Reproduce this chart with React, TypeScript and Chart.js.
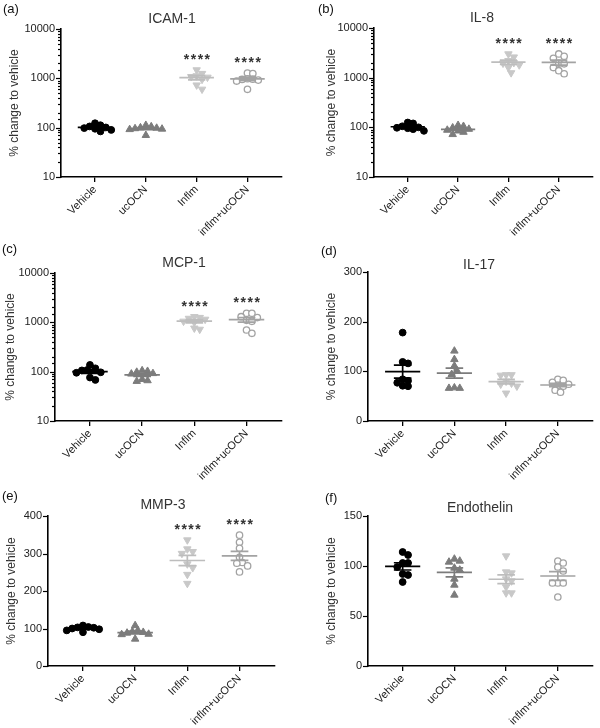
import React, { useEffect, useRef } from 'react';
import { Chart, registerables } from 'chart.js';

Chart.register(...registerables);

// ---------------- data ----------------
const categories = ['Vehicle', 'ucOCN', 'Inflm', 'inflm+ucOCN'];

const icamVehicle = [123, 112, 106, 101, 98, 95, 90, 84];
const icamUcocn = [112, 105, 100, 98, 96, 94, 92, 70];
const icamInflm = [1480, 1250, 1120, 1080, 1050, 950, 730, 600];
const icamCombo = [1280, 1250, 980, 960, 950, 920, 880, 600];

const il8Vehicle = [125, 120, 105, 100, 98, 96, 92, 85];
const il8Ucocn = [110, 105, 98, 92, 88, 85, 80, 72];
const il8Inflm = [3000, 2600, 2200, 2000, 1950, 1800, 1600, 1250];
const il8Combo = [3000, 2700, 2450, 1950, 1900, 1600, 1380, 1200];

const mcpVehicle = [137, 117, 108, 106, 97, 95, 76, 68];
const mcpUcocn = [105, 102, 98, 92, 90, 70, 66, 64];
const mcpInflm = [1300, 1250, 1200, 1150, 1050, 1000, 760, 720];
const mcpCombo = [1525, 1525, 1300, 1250, 1100, 1050, 700, 600];

const il17Vehicle = [178, 119, 116, 84, 81, 77, 71, 70];
const il17Ucocn = [141, 124, 111, 101, 94, 67, 66, 66];
const il17Inflm = [92, 93, 93, 80, 76, 74, 70, 56];
const il17Combo = [84, 82, 78, 74, 72, 70, 62, 58];

const mmpVehicle = [108, 104, 102, 100, 98, 103, 95, 90];
const mmpUcocn = [108, 95, 92, 90, 88, 85, 84, 72];
const mmpInflm = [336, 300, 305, 312, 272, 262, 244, 220];
const mmpCombo = [349, 330, 314, 290, 276, 274, 267, 251];

const endoVehicle = [114, 111, 103, 103, 99, 92, 91, 84];
const endoUcocn = [107, 105, 104, 98, 96, 87, 81, 71];
const endoInflm = [110, 94, 93, 87, 85, 79, 73, 73];
const endoCombo = [105, 103, 99, 95, 83, 83, 83, 69];

const logTickLabels = [10, 100, 1000, 10000];
const il17TickLabels = [0, 100, 200, 300];
const mmpTickLabels = [0, 100, 200, 300, 400];
const endoTickLabels = [0, 50, 100, 150];

const sigStars = ['', '', '****', '****'];
const noStars = ['', '', '', ''];

const yAxisTitle = '% change to vehicle';

// ---------------- styles / layout ----------------
const FONT = "'Liberation Sans', Arial, Helvetica, sans-serif";

const groupStyles = [
  { pointStyle: 'circle', radius: 3.4, fill: '#000000', stroke: '#000000', rotation: 0, bw: 1, line: '#000000' },
  { pointStyle: 'triangle', radius: 4.3, fill: '#7c7c7c', stroke: '#7c7c7c', rotation: 0, bw: 1, line: '#7c7c7c' },
  { pointStyle: 'triangle', radius: 4.3, fill: '#c8c8c8', stroke: '#c8c8c8', rotation: 180, bw: 1, line: '#bdbdbd' },
  { pointStyle: 'circle', radius: 3.2, fill: '#ffffff', stroke: '#a3a3a3', rotation: 0, bw: 1.3, line: '#a3a3a3' },
];

type PanelDef = {
  key: string;
  label: string;
  title: string;
  groups: number[][];
  yType: 'logarithmic' | 'linear';
  yMin: number;
  yMax: number;
  yTicks: number[];
  stars: string[];
  pos: [number, number, number, number];
  area: [number, number, number, number];
  yTitleX: number;
  titleAt: [number, number];
  labelAt: [number, number];
};

const panels: PanelDef[] = [
  {
    key: 'a', label: '(a)', title: 'ICAM-1',
    groups: [icamVehicle, icamUcocn, icamInflm, icamCombo],
    yType: 'logarithmic', yMin: 10, yMax: 10000, yTicks: logTickLabels, stars: sigStars,
    pos: [0, 0, 300, 240], area: [61, 282, 29, 177], yTitleX: 15, titleAt: [172, 19], labelAt: [3, 9],
  },
  {
    key: 'b', label: '(b)', title: 'IL-8',
    groups: [il8Vehicle, il8Ucocn, il8Inflm, il8Combo],
    yType: 'logarithmic', yMin: 10, yMax: 10000, yTicks: logTickLabels, stars: sigStars,
    pos: [300, 0, 300, 240], area: [74, 293, 28, 177], yTitleX: 32, titleAt: [182, 18], labelAt: [18, 9],
  },
  {
    key: 'c', label: '(c)', title: 'MCP-1',
    groups: [mcpVehicle, mcpUcocn, mcpInflm, mcpCombo],
    yType: 'logarithmic', yMin: 10, yMax: 10000, yTicks: logTickLabels, stars: sigStars,
    pos: [0, 240, 300, 240], area: [55, 282, 33, 181], yTitleX: 11, titleAt: [184, 23], labelAt: [2, 9],
  },
  {
    key: 'd', label: '(d)', title: 'IL-17',
    groups: [il17Vehicle, il17Ucocn, il17Inflm, il17Combo],
    yType: 'linear', yMin: 0, yMax: 300, yTicks: il17TickLabels, stars: noStars,
    pos: [300, 240, 300, 240], area: [68, 293, 32, 181], yTitleX: 32, titleAt: [179, 25], labelAt: [21, 11],
  },
  {
    key: 'e', label: '(e)', title: 'MMP-3',
    groups: [mmpVehicle, mmpUcocn, mmpInflm, mmpCombo],
    yType: 'linear', yMin: 0, yMax: 400, yTicks: mmpTickLabels, stars: sigStars,
    pos: [0, 480, 300, 248], area: [48, 275, 36, 186], yTitleX: 12, titleAt: [163, 25], labelAt: [2, 16],
  },
  {
    key: 'f', label: '(f)', title: 'Endothelin',
    groups: [endoVehicle, endoUcocn, endoInflm, endoCombo],
    yType: 'linear', yMin: 0, yMax: 150, yTicks: endoTickLabels, stars: noStars,
    pos: [300, 480, 300, 248], area: [68, 293, 36, 186], yTitleX: 32, titleAt: [180, 28], labelAt: [25, 18],
  },
];

function stats(vals: number[]) {
  const n = vals.length;
  const mean = vals.reduce((a, b) => a + b, 0) / n;
  const sd = Math.sqrt(vals.reduce((a, b) => a + (b - mean) * (b - mean), 0) / (n - 1));
  return { mean, sem: sd / Math.sqrt(n) };
}

// beeswarm offsets (pixels) computed from pixel y positions
function swarm(ys: number[], d: number): number[] {
  const order = ys.map((_, i) => i).sort((a, b) => ys[a] - ys[b]);
  const placed: { x: number; y: number }[] = [];
  const res = new Array(ys.length).fill(0);
  for (const i of order) {
    const y = ys[i];
    let chosen = 0;
    for (let k = 0; k < 60; k++) {
      const cand = k === 0 ? 0 : (k % 2 ? 1 : -1) * Math.ceil(k / 2) * d * 0.5;
      if (placed.every((p) => Math.hypot(p.x - cand, p.y - y) >= d)) {
        chosen = cand;
        break;
      }
    }
    placed.push({ x: chosen, y });
    res[i] = chosen;
  }
  return res;
}

function isTickLabel(v: number, list: number[]) {
  return list.some((t) => Math.abs(t - v) < 1e-6 * Math.max(1, Math.abs(t)));
}

function Panel({ p }: { p: PanelDef }) {
  const ref = useRef<HTMLCanvasElement>(null);

  useEffect(() => {
    const canvas = ref.current;
    if (!canvas) return;
    const [, , cw, ch] = p.pos;
    const [aL, aR, aT, aB] = p.area;
    const padLeft = p.yTitleX - 7.2;

    const datasets: any[] = [];
    p.groups.forEach((vals, gi) => {
      const s = groupStyles[gi];
      datasets.push({
        type: 'scatter',
        data: vals.map((v) => ({ x: gi, y: v })),
        pointStyle: s.pointStyle,
        pointRadius: s.radius,
        pointRotation: s.rotation,
        pointBackgroundColor: s.fill,
        pointBorderColor: s.stroke,
        pointBorderWidth: s.bw,
        showLine: false,
        order: 2,
      });
    });
    p.groups.forEach((vals, gi) => {
      const s = groupStyles[gi];
      const { mean, sem } = stats(vals);
      datasets.push({
        type: 'line',
        data: [
          { x: gi - 0.34, y: mean }, { x: gi + 0.34, y: mean }, { x: gi, y: null },
          { x: gi - 0.17, y: mean + sem }, { x: gi + 0.17, y: mean + sem }, { x: gi, y: null },
          { x: gi - 0.17, y: mean - sem }, { x: gi + 0.17, y: mean - sem }, { x: gi, y: null },
          { x: gi, y: mean - sem }, { x: gi, y: mean + sem },
        ],
        borderColor: s.line,
        borderWidth: 1.7,
        pointRadius: 0,
        fill: false,
        spanGaps: false,
        tension: 0,
        order: 1,
      });
    });

    const deco = {
      id: 'deco' + p.key,
      afterDraw(chart: any) {
        const ctx = chart.ctx;
        const ys = chart.scales.y;
        const xs = chart.scales.x;
        const left = chart.chartArea.left;
        ctx.save();
        // y ticks (major longer, minor shorter)
        ctx.strokeStyle = '#000';
        ctx.lineWidth = 1.2;
        ys.ticks.forEach((t: any) => {
          const y = Math.round(ys.getPixelForValue(t.value)) + 0.5;
          const len = isTickLabel(t.value, p.yTicks) ? 5 : 3;
          ctx.beginPath();
          ctx.moveTo(left - len, y);
          ctx.lineTo(left, y);
          ctx.stroke();
        });
        // title
        ctx.fillStyle = '#333';
        ctx.font = `14px ${FONT}`;
        ctx.textAlign = 'center';
        ctx.textBaseline = 'middle';
        ctx.fillText(p.title, p.titleAt[0], p.titleAt[1]);
        // panel label
        ctx.fillStyle = '#111';
        ctx.font = `13px ${FONT}`;
        ctx.textAlign = 'left';
        ctx.fillText(p.label, p.labelAt[0], p.labelAt[1]);
        // significance stars
        ctx.fillStyle = '#333';
        ctx.font = `bold 14px ${FONT}`;
        ctx.textAlign = 'center';
        ctx.textBaseline = 'alphabetic';
        try { (ctx as any).letterSpacing = '1.5px'; } catch (e) { /* ignore */ }
        p.stars.forEach((st, gi) => {
          if (!st) return;
          const top = ys.getPixelForValue(Math.max(...p.groups[gi]));
          ctx.fillText(st, xs.getPixelForValue(gi) + 1, top - 6);
        });
        ctx.restore();
      },
    };

    const tickFont = { family: FONT, size: 11 };
    const isLog = p.yType === 'logarithmic';

    const chart = new Chart(canvas, {
      type: 'scatter',
      data: { datasets },
      options: {
        responsive: false,
        animation: false,
        devicePixelRatio: 1,
        layout: { padding: { left: padLeft, right: cw - aR, top: aT, bottom: 0 } },
        plugins: {
          legend: { display: false },
          tooltip: { enabled: false },
          title: { display: false },
        },
        scales: {
          x: {
            type: 'linear',
            min: -0.67,
            max: 3.68,
            afterBuildTicks: (s: any) => {
              s.ticks = categories.map((_, i) => ({ value: i }));
            },
            afterFit: (s: any) => {
              s.height = ch - aB;
            },
            ticks: {
              callback: (v: any) => categories[Math.round(Number(v))] ?? '',
              minRotation: 45,
              maxRotation: 45,
              autoSkip: false,
              font: tickFont,
              color: '#222',
              padding: 1,
            },
            grid: { drawOnChartArea: false, drawTicks: true, tickLength: 5, color: '#000', lineWidth: 1.3 },
            border: { display: true, color: '#000', width: 1.6 },
          },
          y: {
            type: p.yType,
            min: p.yMin,
            max: p.yMax,
            afterBuildTicks: isLog
              ? undefined
              : (s: any) => {
                  s.ticks = p.yTicks.map((v) => ({ value: v }));
                },
            afterFit: (s: any) => {
              s.width = aL - padLeft;
            },
            ticks: {
              callback: (v: any) => (isTickLabel(Number(v), p.yTicks) ? String(Math.round(Number(v))) : ''),
              autoSkip: false,
              padding: 6,
              font: tickFont,
              color: '#222',
            },
            grid: { drawOnChartArea: false, drawTicks: false },
            border: { display: true, color: '#000', width: 1.6 },
            title: {
              display: true,
              text: yAxisTitle,
              font: { family: FONT, size: 12 },
              color: '#333',
              padding: { top: 0, bottom: 0 },
            },
          },
        },
      } as any,
      plugins: [deco],
    });

    // spread points horizontally (beeswarm) using the chart's own scales
    const xs: any = chart.scales.x;
    const ysc: any = chart.scales.y;
    const pxPerUnit = xs.getPixelForValue(1) - xs.getPixelForValue(0);
    p.groups.forEach((vals, gi) => {
      const offs = swarm(vals.map((v) => ysc.getPixelForValue(v)), 5.4);
      (chart.data.datasets[gi] as any).data = vals.map((v, k) => ({ x: gi + offs[k] / pxPerUnit, y: v }));
    });
    chart.update();

    return () => chart.destroy();
  }, [p]);

  const [cx, cy, cw, ch] = p.pos;
  return (
    <canvas
      ref={ref}
      width={cw}
      height={ch}
      style={{ position: 'absolute', left: cx, top: cy, width: cw, height: ch }}
    />
  );
}

export default function App() {
  return (
    <div
      style={{
        position: 'absolute',
        left: 0,
        top: 0,
        width: 600,
        height: 728,
        background: '#ffffff',
        overflow: 'hidden',
      }}
    >
      {panels.map((p) => (
        <Panel key={p.key} p={p} />
      ))}
    </div>
  );
}
